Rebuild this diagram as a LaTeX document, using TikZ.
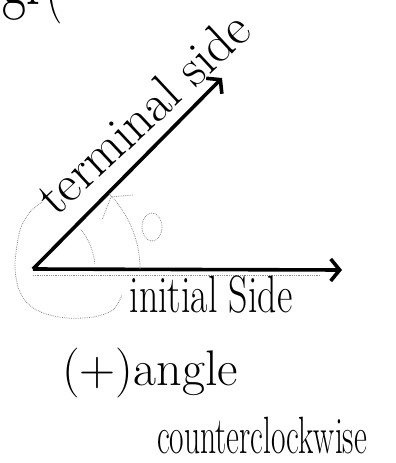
\documentclass[tikz,border=0pt]{standalone}
\usepackage{fontspec}
\usetikzlibrary{arrows.meta}
\tikzset{
 ray/.style={line width=3.6pt, -{Straight Barb[length=9pt,width=22pt]}},
 faint/.style={draw=black!45, line width=0.8pt, densely dotted},
 hand/.style={inner sep=0pt, text=black},
}
\begin{document}
\begin{tikzpicture}[x=1pt,y=-1pt]
\useasboundingbox (0,0) rectangle (396,463);
% rays
\coordinate (v) at (33,269);
\coordinate (iend) at (342,270);
\coordinate (tend) at (222,78);
\draw[ray] (v) -- (iend);
\draw[ray] (v) -- (tend);
% faint pencil marks
\coordinate (u1) at (33,275);
\coordinate (u2) at (320,275);
\draw[faint] (u1) -- (u2);
\draw[faint] (v) ++(0:107) arc[start angle=0,end angle=-45,radius=107];
\draw[faint] (v) ++(-5:62) arc[start angle=-5,end angle=-40,radius=62];
\coordinate (k1) at (111,197);
\coordinate (k2) at (133,195);
\coordinate (k3) at (102,220);
\draw[faint] (k2) -- (k1) -- (k3);
\coordinate (th) at (152,227);
\draw[faint] (th) ellipse[x radius=10, y radius=14];
\draw[faint] plot[smooth] coordinates {(42,202) (30,212) (20,230) (15,263) (18,287) (27,303) (43,313) (67,318) (93,317) (113,310) (122,295)};
% texts
\node[hand, anchor=base west, yscale=1.5, font=\fontsize{52}{54}\selectfont] (top) at (2,5) {gr(};
\node[hand, anchor=base, rotate=43, font=\fontsize{52}{54}\selectfont] (term) at (155,126) {terminal side};
\node[hand, anchor=base, xscale=0.9, yscale=1.25, font=\fontsize{42}{44}\selectfont] (init) at (211,312) {initial Side};
\node[hand, anchor=base, font=\fontsize{50}{52}\selectfont] (pos) at (150,385) {(+)angle};
\node[hand, anchor=base, xscale=0.75, yscale=1.25, font=\fontsize{42}{44}\selectfont] (ccw) at (262,453) {counterclockwise};
\end{tikzpicture}
\end{document}
